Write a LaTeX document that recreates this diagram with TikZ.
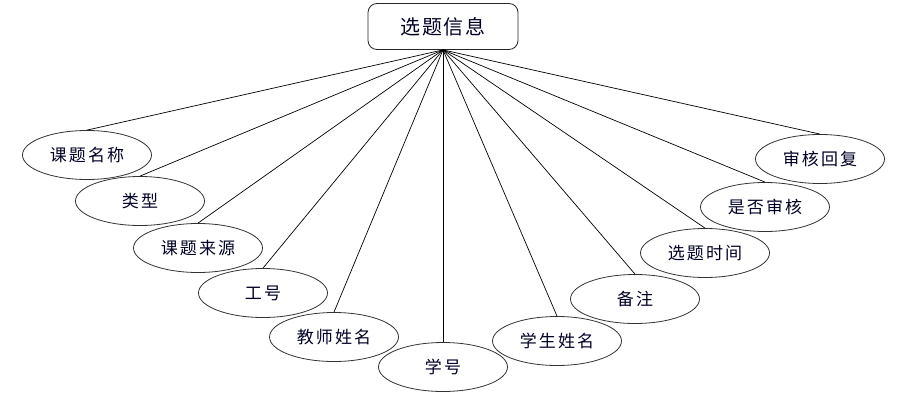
\documentclass[tikz,border=0pt]{standalone}
\usepackage{fontspec}
\setmainfont{Noto Sans CJK SC}
\usetikzlibrary{shapes.geometric}
\begin{document}
\begin{tikzpicture}[x=1pt,y=-1pt,
  attr/.style={draw=black!80, line width=0.8pt, ellipse, minimum width=129pt, minimum height=49pt, inner sep=0pt, text=black!85!blue, font=\fontsize{17}{20}\selectfont\addfontfeature{LetterSpace=12}},
  ent/.style={draw=black!85, line width=0.8pt, rounded corners=9pt, minimum width=150pt, minimum height=46pt, inner sep=0pt, text=black!85!blue, font=\fontsize{20}{24}\selectfont\addfontfeature{LetterSpace=8}},
  conn/.style={draw=black, line width=0.7pt}]
\useasboundingbox (0,0) rectangle (897,407);
\node[ent] (top) at (443,26.5) {选题信息};
\node[attr] (a1) at (87,155) {课题名称};
\node[attr] (a2) at (140,201) {类型};
\node[attr] (a3) at (198,248) {课题来源};
\node[attr] (a4) at (263,293) {工号};
\node[attr] (a5) at (334,337) {教师姓名};
\node[attr] (a6) at (443,367) {学号};
\node[attr] (a7) at (557,341) {学生姓名};
\node[attr] (a8) at (635,299) {备注};
\node[attr] (a9) at (705,253) {选题时间};
\node[attr] (a10) at (765,207) {是否审核};
\node[attr] (a11) at (820,159) {审核回复};
\foreach \i in {1,...,11} {\draw[conn] (top.south) -- (a\i.north);}
\end{tikzpicture}
\end{document}
